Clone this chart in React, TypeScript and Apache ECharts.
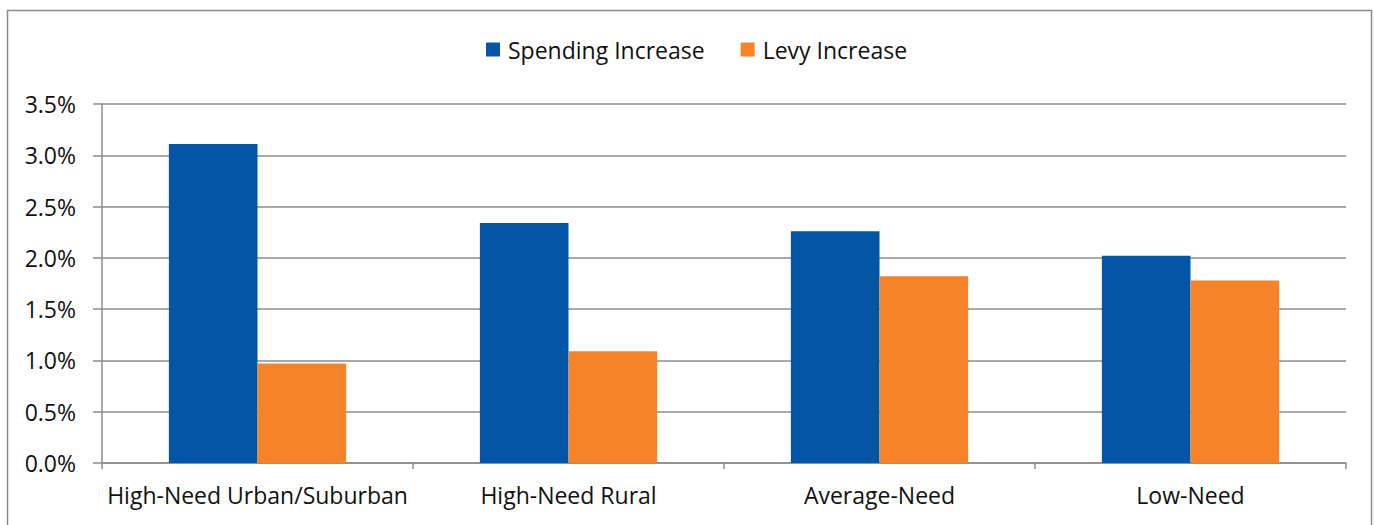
import React, { useEffect, useRef } from "react";
import * as echarts from "echarts";

const categories = ["High-Need Urban/Suburban", "High-Need Rural", "Average-Need", "Low-Need"];
const spendingIncrease = [3.11, 2.34, 2.26, 2.02];
const levyIncrease = [0.97, 1.09, 1.82, 1.78];
const seriesNames = ["Spending Increase", "Levy Increase"];

export default function App() {
  const ref = useRef<HTMLDivElement>(null);
  useEffect(() => {
    if (!ref.current) return;
    const chart = echarts.init(ref.current, null, { renderer: "svg" });
    const font = "'Open Sans', 'Noto Sans', sans-serif";
    chart.setOption({
      animation: false,
      backgroundColor: "#ffffff",
      textStyle: { fontFamily: font },
      graphic: [
        {
          type: "rect",
          shape: { x: 7.5, y: 10.5, width: 1364, height: 530 },
          style: { fill: "none", stroke: "#8a8a8a", lineWidth: 1.5 },
          silent: true,
        },
      ],
      legend: {
        top: 33,
        left: 481,
        itemWidth: 14,
        itemHeight: 14,
        itemGap: 36,
        icon: "rect",
        textStyle: { fontSize: 23, color: "#111", fontFamily: font, padding: [0, 0, 0, 3] },
        data: seriesNames,
      },
      grid: { left: 102, right: 28, top: 104, bottom: 62, containLabel: false },
      xAxis: {
        type: "category",
        data: categories,
        axisLine: { show: true, lineStyle: { color: "#8c8c8c", width: 1.5 } },
        axisTick: { show: true, alignWithLabel: false, interval: 0, length: 6, lineStyle: { color: "#8c8c8c", width: 1.5 } },
        axisLabel: { fontSize: 23, color: "#111", margin: 20, interval: 0, fontFamily: font },
      },
      yAxis: {
        type: "value",
        min: 0,
        max: 3.5,
        interval: 0.5,
        axisLine: { show: true, lineStyle: { color: "#8c8c8c", width: 1.5 } },
        axisTick: { show: true, length: 9, lineStyle: { color: "#8c8c8c", width: 1.5 } },
        splitLine: { show: true, lineStyle: { color: "#8c8c8c", width: 1.5 } },
        axisLabel: {
          fontSize: 23,
          color: "#111",
          margin: 26,
          fontFamily: font,
          formatter: (v: number) => v.toFixed(1) + "%",
        },
      },
      series: [
        {
          name: seriesNames[0],
          type: "bar",
          data: spendingIncrease,
          itemStyle: { color: "#0256A5" },
          barGap: "0%",
          barCategoryGap: "43%",
        },
        {
          name: seriesNames[1],
          type: "bar",
          data: levyIncrease,
          itemStyle: { color: "#F5832A" },
          barGap: "0%",
          barCategoryGap: "43%",
        },
      ],
    });
    return () => chart.dispose();
  }, []);
  return (
    <div
      ref={ref}
      style={{ position: "fixed", left: 0, top: 0, width: 1374, height: 525 }}
    />
  );
}
